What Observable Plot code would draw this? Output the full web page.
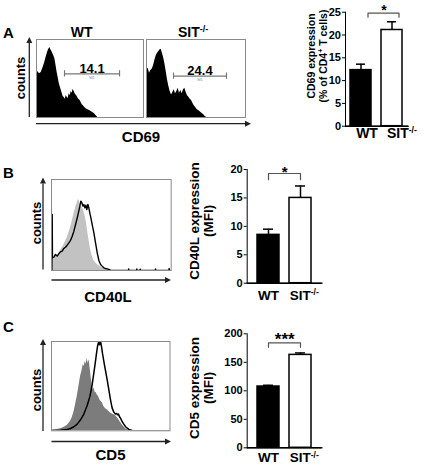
<!DOCTYPE html>
<html><head><meta charset="utf-8">
<script src="https://cdn.jsdelivr.net/npm/d3@7"></script>
<script src="https://cdn.jsdelivr.net/npm/@observablehq/plot@0.6"></script>
<style>
body{margin:0;background:#fff;}
#fig{position:relative;width:430px;height:466px;overflow:hidden;font-family:"Liberation Sans",Arial,sans-serif;}
</style></head><body><div id="fig"></div>
<script>
// ---------------- DATA ----------------
const groups = ["WT", "SIT-/-"];
// A: CD69 expression (% of CD4+ T cells)
const cd69Mean = [12.3, 21.1];
const cd69Sem = [1.3, 1.8];
const cd69Ticks = [0, 5, 10, 15, 20, 25];
const cd69Bracket = [23.9, 24.8];
// B: CD40L expression (MFI)
const cd40lMean = [8.5, 15.0];
const cd40lSem = [1.0, 2.1];
const cd40lTicks = [0, 5, 10, 15, 20];
const cd40lBracket = [18.2, 19.3];
// C: CD5 expression (MFI)
const cd5Mean = [107.5, 163];
const cd5Sem = [2.2, 3.4];
const cd5Ticks = [0, 50, 100, 150, 200];
const cd5Bracket = [176.5, 184];
const sigLabels = ["*", "*", "***"];
// CD69 gates
const gateChannels = [[262, 776], [273, 808]];
const gateLevels = [56, 53];
const gateLabels = ["14.1", "24.4"];
const gateName = "M1";
// Histograms: [channel, counts (% of axis max)]
const histCD69WT = [[0,0],[0,52.6],[12,59],[28,56],[44,57.7],[59,63.2],[75,69.7],[90,77.4],[106,84.6],[115,87.6],[125,89.7],[134,86.8],[143,85],[153,81.6],[162,79],[171,75.6],[184,65.4],[193,57.7],[202,51.7],[212,44],[221,39.7],[230,35.5],[240,31.2],[249,26.9],[259,25.6],[268,23.5],[277,27.8],[287,26],[296,24.4],[305,30.3],[315,27.8],[324,33.3],[333,31.2],[343,36.3],[352,33.3],[361,30.3],[371,28.6],[380,26.9],[389,24.8],[399,22.6],[408,21.8],[417,19.2],[427,16.2],[436,15.4],[449,13.2],[464,11.1],[480,9.8],[495,9],[511,7.7],[526,6.4],[542,4.7],[558,2.1],[573,0],[1000,0]];
const histCD69SIT = [[0,0],[3,61.1],[17,63.2],[30,56.8],[44,60.3],[57,62],[71,66.2],[84,73.1],[98,79.1],[111,82.5],[125,84.6],[138,86.8],[148,87.6],[158,83.3],[172,77.4],[185,69.7],[199,59],[212,48.3],[226,39.7],[239,33.3],[253,29],[266,32],[280,35.5],[293,30.3],[306,33.3],[320,37.6],[333,31.2],[347,34.6],[360,30.3],[374,35.5],[387,37.6],[401,32],[414,27.8],[428,26],[441,23.5],[455,21.8],[468,18.4],[482,15],[495,13.2],[508,10.7],[525,9],[542,7.3],[559,5.6],[576,3.8],[593,1.3],[609,0],[1000,0]];
const histCD40LWT = [[0,0],[6,13.9],[20,12.1],[33,17.6],[47,15.8],[61,19.4],[75,22],[89,24.9],[103,27.8],[117,32.2],[131,35.9],[145,41.4],[159,46.9],[173,54.2],[187,61.5],[201,68.9],[215,74.4],[223,78],[231,76.9],[240,72.5],[248,70.7],[256,68.9],[265,67],[273,63.4],[281,59.7],[290,54.2],[298,46.9],[306,39.6],[315,32.2],[326,23],[340,15.8],[354,11],[368,8.4],[382,6.6],[410,4],[437,2.2],[465,0.7],[493,0],[1000,0]];
const histCD40LSIT = [[3,0],[6,61.5],[8,13.9],[20,14.7],[33,17.6],[47,15.8],[61,18.3],[75,20.5],[89,21.2],[103,24.2],[117,25.6],[131,27.8],[145,30.4],[159,33],[173,37.7],[187,43.2],[201,50.5],[215,57.9],[228,65.2],[237,70.7],[245,76.2],[254,74.4],[262,70.7],[270,72.5],[279,68.9],[287,71.8],[295,67],[304,72.5],[312,68.9],[320,63.4],[329,57.9],[340,50.5],[354,41.4],[368,30.4],[382,19.4],[396,11],[410,6.6],[423,4.8],[437,2.9],[451,2.2],[465,1.8],[479,1.1],[493,0.4],[521,0],[643,0],[645,1.8],[647,0],[711,0],[713,1.8],[715,0],[739,0],[741,1.5],[743,0],[867,0],[869,1.8],[871,0],[981,0],[983,2.2],[985,0],[1000,0]];
const histCD5WT = [[0,0],[6,0.7],[48,1.5],[76,2.2],[104,3.7],[132,6],[160,10.4],[174,14.2],[189,20.9],[203,29.1],[217,38.4],[231,49.6],[245,60.8],[256,66.4],[267,73.9],[276,72],[284,77.6],[293,74.6],[301,81.3],[309,75.7],[318,79.5],[326,70.1],[335,59],[343,51.5],[352,45.9],[360,47.8],[369,42.2],[377,43.3],[385,40.3],[397,38.4],[408,34.7],[419,32.8],[430,31],[442,27.2],[456,24.6],[470,23.5],[484,21.6],[498,19.8],[512,18.7],[526,17.9],[540,17.2],[554,14.9],[568,12.3],[582,9.7],[596,6.7],[610,4.5],[625,2.2],[639,1.1],[667,0],[1000,0]];
const histCD5SIT = [[6,0.4],[76,0.7],[132,1.5],[160,2.6],[189,4.5],[217,7.5],[245,12.3],[273,18.7],[301,28.4],[324,38.4],[343,51.5],[357,64.6],[369,75.7],[380,86.9],[388,94.4],[397,99.3],[405,96.3],[414,100],[422,94.4],[430,86.9],[442,77.6],[456,67.2],[470,57.1],[484,45.9],[498,34.7],[512,25.4],[526,20.9],[540,18.7],[549,19.4],[557,17.9],[565,18.7],[574,15.7],[582,14.2],[596,10.4],[610,7.5],[625,4.5],[639,3],[653,1.5],[681,0.4],[751,0],[1000,0]];

// ---------------- LAYOUT ----------------
const fig = document.getElementById("fig");
const FONT = '"Liberation Sans", Arial, sans-serif';
const baseStyle = {background: "transparent", overflow: "visible", fontFamily: FONT, fontWeight: "bold", fontSize: "11px", color: "black"};

function place(node, left, top) {
  const d = document.createElement("div");
  d.style.cssText = `position:absolute;left:${left}px;top:${top}px;line-height:0;`;
  d.appendChild(node);
  fig.appendChild(d);
}

function histPlot(box, marks) {
  const [x1, y1, x2, y2] = box;
  const p = Plot.plot({
    width: x2 - x1 + 2, height: y2 - y1 + 2, margin: 1,
    x: {domain: [0, 1000], axis: null},
    y: {domain: [0, 100], axis: null},
    clip: true,
    style: baseStyle,
    marks: [...marks, Plot.frame({stroke: "#8a8a8a"})]
  });
  place(p, x1 - 1, y1 - 1);
}

const xy = {x: d => d[0], y: d => d[1], curve: "linear"};

// A histograms
[[histCD69WT, [36, 39, 143, 117]], [histCD69SIT, [146, 39, 245, 117]]].forEach(([h, box], i) => {
  const gate = [{from: gateChannels[i][0], to: gateChannels[i][1], level: gateLevels[i], label: gateLabels[i]}];
  histPlot(box, [
    Plot.areaY(h, {...xy, fill: "black"}),
    Plot.ruleY(gate, {x1: "from", x2: "to", y: "level", stroke: "#777", strokeWidth: 1.2}),
    Plot.ruleX(gate, {x: "from", y1: d => d.level - 4, y2: d => d.level + 4, stroke: "#777", strokeWidth: 1.2}),
    Plot.ruleX(gate, {x: "to", y1: d => d.level - 4, y2: d => d.level + 4, stroke: "#777", strokeWidth: 1.2}),
    Plot.text(gate, {x: d => (d.from + d.to) / 2, y: "level", text: "label", lineAnchor: "bottom", dy: -1, fontSize: 13, fontWeight: "bold"}),
    Plot.text(gate, {x: d => (d.from + d.to) / 2, y: "level", text: () => gateName, lineAnchor: "top", dy: 2, fontSize: 4, fill: "#888", fontWeight: "normal"})
  ]);
});
// B histogram
histPlot([51, 179, 170.7, 270], [
  Plot.areaY(histCD40LWT, {...xy, fill: "#c2c2c2"}),
  Plot.line(histCD40LSIT, {...xy, stroke: "black", strokeWidth: 1.4})
]);
// C histogram
histPlot([51, 340.7, 169.5, 430], [
  Plot.areaY(histCD5WT, {...xy, fill: "#7c7c7c"}),
  Plot.line(histCD5SIT, {...xy, stroke: "black", strokeWidth: 1.5})
]);

// Bar charts
function barPlot(cfg) {
  const rows = groups.map((g, i) => ({group: g, mean: cfg.mean[i], sem: cfg.sem[i]}));
  const [b0, b1] = cfg.bracket;
  const br = [{group: groups[0], y: b0}, {group: groups[0], y: b1}, {group: groups[1], y: b1}, {group: groups[1], y: b0}];
  const L = cfg.layout;
  const p = Plot.plot({
    width: L.width, height: L.height,
    marginLeft: L.ml, marginRight: L.mr, marginTop: L.mt, marginBottom: L.mb,
    x: {domain: groups, paddingInner: L.pi, paddingOuter: L.po, tickSize: 0, tickPadding: L.xpad, label: null, line: true},
    y: {domain: [0, cfg.ticks[cfg.ticks.length - 1]], ticks: cfg.ticks, tickSize: 3, tickPadding: 1.5, label: null, line: true},
    style: baseStyle,
    marks: [
      Plot.barY(rows, {filter: d => d.group === groups[0], x: "group", y: "mean", fill: "black", stroke: "black", strokeWidth: 1.5}),
      Plot.barY(rows, {filter: d => d.group === groups[1], x: "group", y: "mean", fill: "white", stroke: "black", strokeWidth: 1.5}),
      Plot.ruleX(rows, {x: "group", y1: "mean", y2: d => d.mean + d.sem, stroke: "black", strokeWidth: 1.5}),
      Plot.tickY(rows, {x: "group", y: d => d.mean + d.sem, stroke: "black", strokeWidth: 1.5, inset: 6}),
      Plot.ruleY([0], {stroke: "black", strokeWidth: 1.5}),
      Plot.line(br, {x: "group", y: "y", stroke: "#555", strokeWidth: 1.2, dx: L.bdx}),
      Plot.text([cfg.sig], {y: b1, text: d => d, lineAnchor: "bottom", fontSize: L.sigSize, fontWeight: "bold", dx: L.bdx, dy: L.sigDy})
    ]
  });
  const s = d3.select(p);
  s.selectAll('[aria-label="x-axis tick label"]').style("font-size", L.xFont + "px")
    .selectAll("text").each(function() {
      const t = this.textContent;
      let dx = L.xdx;
      if (t.includes("-/-")) {
        this.textContent = "";
        const el = d3.select(this);
        el.append("tspan").text(t.replace("-/-", ""));
        el.append("tspan").text("-/-").style("font-size", "0.62em").attr("dy", "-0.55em");
        dx += L.xFont * 0.28;
      }
      this.setAttribute("dx", dx);
    });
  place(p, L.left, L.top);
}

barPlot({mean: cd69Mean, sem: cd69Sem, ticks: cd69Ticks, bracket: cd69Bracket, sig: sigLabels[0],
  layout: {left: 320, top: 0, width: 110, height: 148, ml: 25, mr: 22, mt: 11.7, mb: 22.3, pi: 0.31, po: 0.14, xpad: 1.5, xFont: 14, xdx: 6, bdx: 7, sigSize: 14, sigDy: 2}});
barPlot({mean: cd40lMean, sem: cd40lSem, ticks: cd40lTicks, bracket: cd40lBracket, sig: sigLabels[1],
  layout: {left: 222, top: 150, width: 110, height: 160, ml: 24.7, mr: 10.3, mt: 19, mb: 27.3, pi: 0.3, po: 0.3, xpad: 7, xFont: 13.5, xdx: 0, bdx: 0, sigSize: 15, sigDy: 4}});
barPlot({mean: cd5Mean, sem: cd5Sem, ticks: cd5Ticks, bracket: cd5Bracket, sig: sigLabels[2],
  layout: {left: 222, top: 310, width: 110, height: 156, ml: 24.7, mr: 10.3, mt: 23.3, mb: 18.7, pi: 0.3, po: 0.3, xpad: 5, xFont: 13.5, xdx: 0, bdx: 0, sigSize: 17, sigDy: 2}});

// ---------------- OVERLAY: labels & axis arrows ----------------
const ov = d3.create("svg").attr("width", 430).attr("height", 466)
  .style("position", "absolute").style("left", "0px").style("top", "0px").style("pointer-events", "none")
  .attr("font-family", FONT).attr("font-weight", "bold");
fig.appendChild(ov.node());

function txt(x, y, parts, size, anchor = "start", rotate = 0) {
  const t = ov.append("text").attr("transform", `translate(${x},${y}) rotate(${rotate})`)
    .attr("font-size", size).attr("text-anchor", anchor);
  (Array.isArray(parts) ? parts : [parts]).forEach(p => {
    if (typeof p === "string") t.append("tspan").text(p);
    else t.append("tspan").text(p.sup).attr("font-size", p.size).attr("dy", p.dy);
  });
  return t;
}

txt(3, 38, "A", 15);
txt(3, 178, "B", 15);
txt(3, 332, "C", 15);
txt(81.7, 37, "WT", 14, "middle");
txt(178, 37, ["SIT", {sup: "-/-", size: 9, dy: -5}], 14);
txt(25, 78, "counts", 13, "middle", -90);
txt(40.5, 223, "counts", 13, "middle", -90);
txt(40.5, 390, "counts", 13, "middle", -90);
txt(141, 142, "CD69", 15, "middle");
txt(108, 302, "CD40L", 15, "middle");
txt(110.5, 460, "CD5", 15, "middle");
txt(315, 56, "CD69 expression", 10.5, "middle", -90);
txt(327, 56, ["(% of CD4", {sup: "+", size: 7, dy: -4}, {sup: " T cells)", size: 10.5, dy: 4}], 10.5, "middle", -90);
txt(199, 221, "CD40L expression", 13.5, "middle", -90);
txt(213, 221, "(MFI)", 13.5, "middle", -90);
txt(199, 388, "CD5 expression", 13.5, "middle", -90);
txt(213, 388, "(MFI)", 13.5, "middle", -90);

function arrow(x1, y1, x2, y2) {
  const a = Math.atan2(y2 - y1, x2 - x1), L = 6, W = 3;
  const bx = x2 - L * Math.cos(a), by = y2 - L * Math.sin(a);
  ov.append("line").attr("x1", x1).attr("y1", y1).attr("x2", bx).attr("y2", by).attr("stroke", "#222").attr("stroke-width", 1.3);
  ov.append("path").attr("d", `M${x2},${y2}L${bx - W * Math.sin(a)},${by + W * Math.cos(a)}L${bx + W * Math.sin(a)},${by - W * Math.cos(a)}Z`).attr("fill", "#222");
}
arrow(29.3, 117, 29.3, 37);
arrow(36, 123.7, 251, 123.7);
arrow(43, 269.5, 43, 177.5);
arrow(51.5, 280, 171, 280);
arrow(43, 431, 43, 339);
arrow(51.5, 441.5, 171, 441.5);
</script></body></html>
